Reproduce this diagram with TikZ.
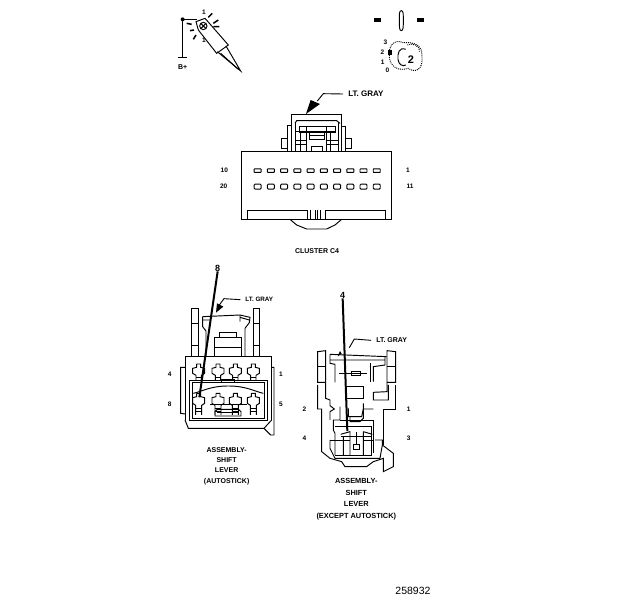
\documentclass[tikz,border=0pt]{standalone}
\usepackage{fontspec}
\setmainfont{Liberation Sans}
\tikzset{
  ln/.style={line width=0.95pt,line join=miter,black},
  thick lead/.style={line width=2pt,black},
  lead/.style={line width=0.9pt,black},
  lbl/.style={inner sep=0pt,font=\bfseries\fontsize{7}{8}\selectfont,align=center},
  grayA/.style={inner sep=0pt,font=\bfseries\fontsize{8}{9}\selectfont},
  grayB/.style={inner sep=0pt,font=\bfseries\fontsize{6.3}{7}\selectfont},
  grayC/.style={inner sep=0pt,font=\bfseries\fontsize{7}{8}\selectfont},
  bignum/.style={inner sep=0pt,font=\bfseries\fontsize{9}{10}\selectfont},
  pin/.style={inner sep=0pt,font=\bfseries\fontsize{6.5}{7}\selectfont},
  captxtL/.style={inner sep=0pt,font=\bfseries\fontsize{7}{10.3}\selectfont,align=center},
  captxtR/.style={inner sep=0pt,font=\bfseries\fontsize{7.4}{11.5}\selectfont,align=center},
  slota/.style={ln,minimum width=7pt,minimum height=3.5pt,inner sep=0pt,draw,rounded corners=0.5pt},
  slotb/.style={ln,minimum width=7pt,minimum height=5pt,inner sep=0pt,draw,rounded corners=1pt}
}
\begin{document}
\begin{tikzpicture}[x=1pt,y=-1pt]
\useasboundingbox (0,0) rectangle (624,600);
\fill[white] (0,0) rectangle (624,600);
% --- probe
\begin{scope}[x=0.3333pt,y=-0.3333pt,shift={(160pt,0pt)}]
\draw[ln] (55,172)--(82,172) (68,172)--(68,58)--(112,58);
\fill (68,58) circle (6);
\draw[ln] (108,65)--(135,55)--(150,72)--(205,135)--(170,160)--(115,90)--cycle;
\draw[ln] (172,155)--(242,213)--(198,138);
\draw[ln] (182,160)--(235,208);
\draw[ln] (130,78) circle (11);
\draw[ln] (122,70)--(138,86) (138,70)--(122,86);
\draw[line width=1.5pt] (145,52)--(157,40) (160,70)--(175,60) (160,80)--(178,80) (90,92)--(102,90) (100,118)--(108,105) (80,70)--(95,73);
\node[pin] (p1) at (132,36) {1};
\node[pin] (p2) at (132,122) {1};
\node[lbl] (bp) at (68,201) {B+};
% --- switch
\fill (642,55) rectangle (663,67);
\fill (772,55) rectangle (793,67);
\draw[ln] (724,32) .. controls (717,32) and (718,45) .. (718,62) .. controls (718,80) and (718,92) .. (724,92) .. controls (730,92) and (730,80) .. (730,62) .. controls (730,45) and (731,32) .. (724,32) -- cycle;
\node[pin] (s3) at (676,128) {3};
\node[pin] (s2) at (667,158) {2};
\node[pin] (s1) at (668,186) {1};
\node[pin] (s0) at (682,212) {0};
\fill (685,150) rectangle (696,165);
\draw[ln,densely dotted] (730,128) .. controls (700,115) and (685,140) .. (688,170) .. controls (690,200) and (715,215) .. (745,205) .. controls (765,220) and (790,210) .. (786,170) .. controls (788,140) and (770,125) .. (730,128);
\draw[ln] (737,148) .. controls (718,140) and (712,160) .. (714,178) .. controls (716,195) and (728,200) .. (738,195);
\draw[ln,densely dotted] (742,135) .. controls (755,128) and (780,135) .. (778,155);
\node[inner sep=0pt,font=\bfseries\fontsize{11}{12}\selectfont] (s4) at (753,178) {2};
\end{scope}
% --- cluster connector
\begin{scope}[x=0.3333pt,y=-0.3333pt,shift={(210pt,-80pt)}]
\draw[ln] (95,214) rectangle (545,418);
\draw[ln] (292,418)--(292,390)--(112,390)--(112,418);
\draw[ln] (345,418)--(345,390)--(527,390)--(527,418);
\draw[ln] (302,418)--(302,390) (316,418)--(316,390) (330,418)--(330,390) (322,418)--(322,390);
\draw[ln] (240,418)--(260,435)--(290,447)--(350,447)--(375,435)--(395,418);
\draw[ln] (245,214)--(245,102)--(395,102)--(395,214);
\draw[ln] (233,214)--(233,135)--(245,135);
\draw[ln] (407,214)--(407,138)--(395,138);
\draw[ln] (233,175)--(213,175)--(213,205)--(233,205);
\draw[ln] (407,175)--(425,175)--(425,205)--(407,205);
\draw[ln] (255,130)--(260,122)--(380,122)--(390,130);
\draw[ln] (267,138) rectangle (375,156);
\draw[ln] (257,155)--(378,155);
\draw[ln] (255,125)--(255,214) (385,125)--(385,214);
\draw[ln] (272,156)--(272,214) (362,156)--(362,214);
\draw[ln] (290,140)--(290,214) (350,140)--(350,214);
\draw[ln] (298,156) rectangle (342,178);
\draw[ln] (298,165)--(342,165);
\draw[ln] (303,214)--(303,200)--(337,200)--(337,214);
\draw[ln] (255,180)--(290,180) (350,180)--(385,180);
\draw[ln] (255,192)--(290,192) (350,192)--(385,192);
\foreach \i in {0,...,9}{
  \node[slota] (ra\i) at ({143+\i*39.7},272) {};
  \node[slotb] (rb\i) at ({143+\i*39.7},320) {};
}
\node[pin] (c10) at (43,272) {10};
\node[pin] (c20) at (41,320) {20};
\node[pin] (c1) at (594,272) {1};
\node[pin] (c11) at (600,320) {11};
\node[grayA] (cgray) at (468,42) {LT. GRAY};
\draw[lead] ([xshift=-5pt]cgray.west) -- (340,41) -- (322,63);
\fill (288,102) -- (302,60) -- (330,72) -- cycle;
\node[lbl] (cname) at (321,512) {CLUSTER C4};
\end{scope}
% --- left connector
\begin{scope}[x=0.3333pt,y=-0.3333pt,shift={(160pt,-260pt)}]
\draw[ln] (95,290)--(95,145)--(115,145)--(115,290);
\draw[ln] (95,190)--(115,190) (95,256)--(115,256);
\draw[ln] (279,290)--(279,145)--(299,145)--(299,290);
\draw[ln] (279,190)--(299,190) (279,256)--(299,256);
\draw[ln] (128,170)--(128,200)--(138,213)--(138,290);
\draw[ln] (128,170)--(240,165)--(270,172)--(268,188)--(255,205)--(255,290);
\draw[ln] (128,180)--(150,180) (240,172)--(268,180) (240,165)--(240,185);
\draw[ln] (162,290)--(162,232)--(245,232)--(245,290);
\draw[ln] (162,262)--(245,262);
\draw[ln] (178,232)--(178,216)--(228,216)--(228,232);
\draw[ln] (75,480)--(75,290)--(335,290)--(335,480);
\draw[ln] (75,322)--(62,322)--(62,460)--(75,462);
\draw[ln] (335,322)--(342,322)--(342,525)--(332,525)--(312,505)--(85,505)--(75,480);
\draw[ln] (312,505)--(335,480);
\draw[ln] (89,482)--(89,362)--(322,362)--(322,482)--cycle;
\draw[ln] (97,474)--(97,368)--(314,368)--(314,474)--cycle;
\draw[ln] (100,400) .. controls (125,395) and (150,378) .. (205,378) .. controls (260,378) and (285,395) .. (310,400);
\foreach \x in {116,174,226,280}{
  \draw[ln] ({\x-6},312)--({\x-6},322)--({\x-18},325)--({\x-18},340)--({\x-8},346)--({\x-8},362) ({\x+8},362)--({\x+8},346)--({\x+18},340)--({\x+18},325)--({\x+6},322)--({\x+6},312)--({\x-6},312);
  \draw[ln] ({\x-8},352)--({\x+8},352);
  \draw[ln] ({\x-6},400)--({\x-6},410)--({\x-18},413)--({\x-18},430)--({\x-9},436)--({\x-9},465) ({\x+9},465)--({\x+9},436)--({\x+18},430)--({\x+18},413)--({\x+6},410)--({\x+6},400)--({\x-6},400);
  \draw[ln] ({\x-9},445)--({\x+9},445) ({\x-9},455)--({\x+9},455);
}
\draw[ln] (185,358) rectangle (222,368);
\draw[ln] (165,455)--(172,448)--(235,448)--(243,455)--(243,468)--(165,468)--cycle;
\draw[ln] (172,458)--(235,458);
\draw[ln] (150,432)--(262,432);
\node[pin] (l4) at (29,344) {4};
\node[pin] (l8) at (29,434) {8};
\node[pin] (l1) at (363,344) {1};
\node[pin] (l5) at (363,434) {5};
\node[bignum] (ltop) at (173,24) {8};
\node[grayB] (lgray) at (298,119) {LT. GRAY};
\coordinate (lend) at (118,412);
\draw[thick lead] (ltop.south) -- (lend);
\draw[lead] ([xshift=-5pt]lgray.west) -- (192,116) -- (178,135);
\fill (168,158) -- (171,130) -- (190,140) -- cycle;
\node[captxtL] (lname) at (200,618) {ASSEMBLY-\\SHIFT\\LEVER\\(AUTOSTICK)};
\end{scope}
% --- right connector
\begin{scope}[x=0.3333pt,y=-0.3333pt,shift={(295pt,-285pt)}]
\draw[ln] (92,292)--(68,292)--(68,200)--(92,197)--(92,292);
\draw[ln] (68,245)--(92,245);
\draw[ln] (276,292)--(302,292)--(302,200)--(276,197)--(276,292);
\draw[ln] (276,245)--(302,245);
\draw[ln] (105,208)--(275,215);
\draw[ln] (105,208)--(105,235)--(120,238)--(120,292);
\draw[ln] (105,225)--(270,225) (270,215)--(270,240)--(235,245)--(235,290);
\draw[ln] (168,258) rectangle (195,272);
\draw[ln] (132,265)--(215,265) (225,235)--(225,290);
\draw[ln] (155,304)--(205,304)--(205,340)--(155,340);
\draw[ln] (92,292)--(92,340)--(105,345);
\draw[ln] (276,292)--(276,320)--(235,322)--(235,345)--(280,345)--(280,300);
\draw[ln] (68,300)--(68,372)--(80,372)--(80,500)--(105,520)--(140,530)--(150,545)--(215,545)--(235,530)--(265,520)--(265,560)--(295,545)--(295,505)--(262,480);
\draw[ln] (300,300)--(300,372)--(265,372)--(265,480);
\draw[ln] (105,345)--(105,362)--(118,372)--(105,380)--(105,405);
\draw[ln] (105,465)--(105,490)--(120,520)--(255,520)--(262,480)--(262,465)--(240,465);
\draw[ln] (105,465)--(120,465);
\draw[ln] (160,370)--(160,395)--(200,395)--(205,372)--(235,372);
\draw[ln] (205,355)--(205,400)--(195,410)--(165,410)--(165,395);
\draw[ln] (135,365)--(135,405)--(115,405)--(115,435)--(120,445)--(120,510);
\draw[ln] (135,405)--(235,405)--(235,505);
\draw[ln] (120,425)--(230,425)--(230,510)--(120,510);
\draw[ln] (137,448)--(165,440)--(165,510) (145,455)--(145,510);
\draw[ln] (205,440)--(232,448) (205,440)--(205,510);
\draw[ln] (137,455)--(232,455);
\draw[ln] (185,440)--(185,478);
\draw[ln] (175,478) rectangle (193,492);
\draw[ln] (120,465)--(165,465) (205,465)--(235,465);
\node[pin] (r2) at (28,373) {2};
\node[pin] (r4) at (28,460) {4};
\node[pin] (r1) at (341,372) {1};
\node[pin] (r3) at (341,460) {3};
\node[bignum] (rtop) at (143,30) {4};
\node[grayC] (rgray) at (290,166) {LT. GRAY};
\coordinate (rend) at (157,438);
\draw[thick lead] (rtop.south) -- (rend);
\draw[lead] ([xshift=-5pt]rgray.west) -- (178,162) -- (163,188);
\fill (128,214) -- (135,198) -- (140,206) -- cycle;
\node[captxtR] (rname) at (184,643) {ASSEMBLY-\\SHIFT\\LEVER\\(EXCEPT AUTOSTICK)};
\end{scope}
\node[inner sep=0pt,font=\fontsize{10.5}{11}\selectfont] (num) at (413,591) {258932};
\end{tikzpicture}
\end{document}
